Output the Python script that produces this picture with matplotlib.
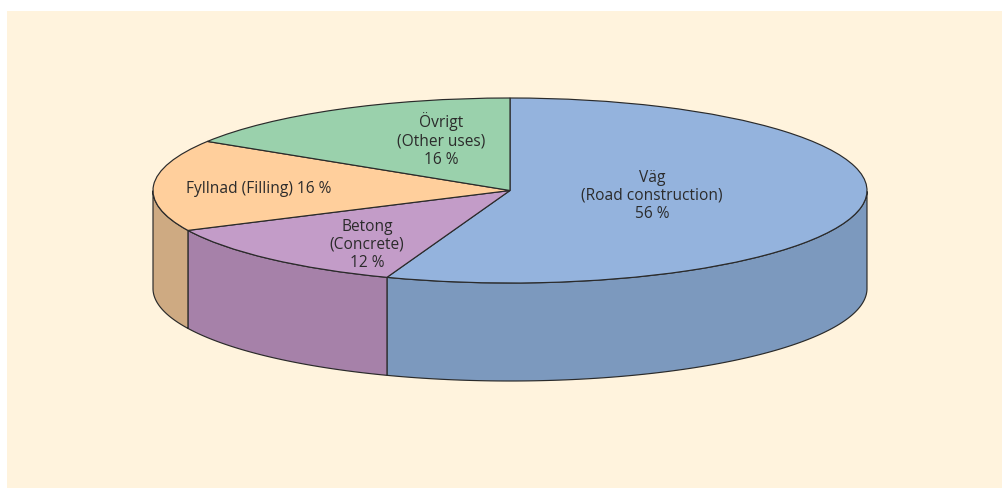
#!/usr/bin/env python3

import numpy as np
import matplotlib
matplotlib.use('Agg')
import matplotlib.pyplot as plt
from matplotlib.patches import Rectangle

plt.rcParams['font.family'] = ['Open Sans', 'DejaVu Sans']

labels = ['Väg\n(Road construction)\n56 %', 'Betong\n(Concrete)\n12 %',
          'Fyllnad (Filling) 16 %', 'Övrigt\n(Other uses)\n16 %']
shares = [55.6, 12.3, 16, 16.1]
top_colors = ['#94B3DD', '#C39CC8', '#FFCF9C', '#9AD1AC']
side_colors = ['#7C99BE', '#A681A9', '#CEAA82', '#85B593']

W, H = 1002, 488
cx, cy = 510, 190.5      # pie centre in pixels from top left
rx, ry = 357, 92.5
depth = 98 / ry
edge = '#2a2a2a'

fig = plt.figure(figsize=(W / 100, H / 100), dpi=100, facecolor='white')
ax = fig.add_axes([0, 0, 1, 1])

wedges, _ = ax.pie(shares, startangle=90, counterclock=False, colors=top_colors,
                   wedgeprops={'edgecolor': edge, 'linewidth': 0.85, 'zorder': 3})

# the pie is a circle in data units, the axis limits squash it to an ellipse
ax.set_aspect('auto')
ax.set_xlim(-cx / rx, (W - cx) / rx)
ax.set_ylim(-(H - cy) / ry, cy / ry)
ax.axis('off')

fig.patches.append(Rectangle((7 / W, 0), (W - 7) / W, (H - 11) / H, transform=fig.transFigure,
                             facecolor='#FFF3DD', edgecolor='none', zorder=-5))

# side wall, only the front half of the rim shows
fractions = np.cumsum([0] + shares) / sum(shares)
for i in range(len(shares)):
    a0 = np.pi / 2 - 2 * np.pi * fractions[i]
    a1 = np.pi / 2 - 2 * np.pi * fractions[i + 1]
    t = np.linspace(a0, a1, 200)
    t = t[np.sin(t) <= 0]
    if len(t) == 0:
        continue
    x = np.cos(t)
    y = np.sin(t)
    ax.fill(np.r_[x, x[::-1]], np.r_[y, y[::-1] - depth], facecolor=side_colors[i],
            edgecolor=edge, linewidth=0.85, zorder=2)

label_x = [(652 - cx) / rx, (367 - cx) / rx, (258.5 - cx) / rx, (441 - cx) / rx]
label_y = [(cy - 196) / ry, (cy - 245) / ry, (cy - 189) / ry, (cy - 140) / ry]
for s, lx, ly in zip(labels, label_x, label_y):
    ax.text(lx, ly, s, ha='center', va='center', fontsize=11.2, color='#2b2b2b',
            linespacing=1.18, zorder=5)

fig.savefig('out.png', dpi=100)
